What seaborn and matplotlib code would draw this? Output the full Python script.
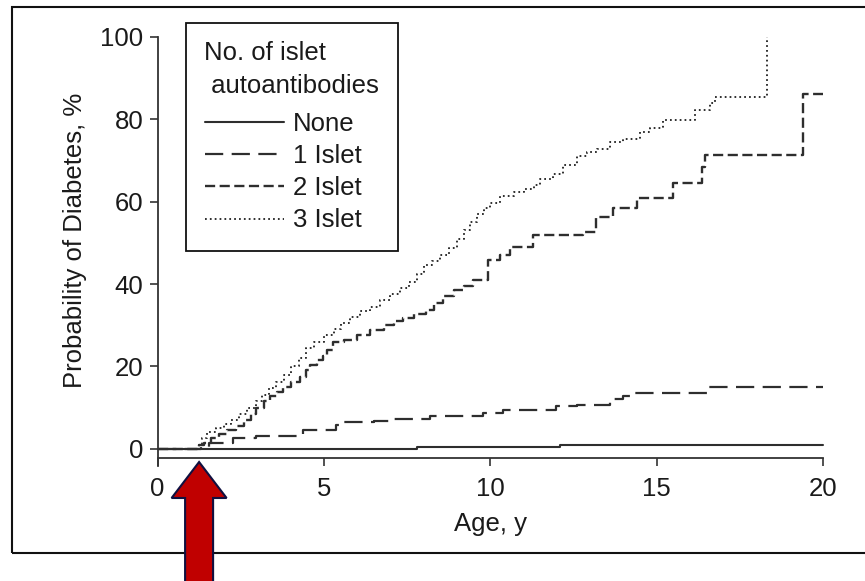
import matplotlib
matplotlib.use("Agg")
import matplotlib.pyplot as plt
from matplotlib.patches import Polygon, Rectangle
from matplotlib.transforms import IdentityTransform
import pandas as pd
import seaborn as sns

# Cumulative probability of diabetes (%) by age, grouped by number of islet autoantibodies
groups = ["None", "1 Islet", "2 Islet", "3 Islet"]

age_none = [0, 7.8, 12.1, 20]
prob_none = [0, 0.3, 0.8, 0.8]

age_1 = [0, 1.3, 1.56, 2.27, 2.97, 4.37, 5.37, 5.47, 6.5, 7.0, 8.18, 9.77,
         10.38, 11.99, 12.6, 13.6, 14.0, 14.3, 16.5, 20]
prob_1 = [0, 0.5, 1.5, 2.6, 3.2, 4.6, 5.8, 6.4, 6.8, 7.2, 8.0, 8.7,
          9.5, 10.3, 10.7, 12.1, 12.9, 13.5, 15.0, 15.0]

age_2 = [0, 1.25, 1.4, 1.6, 1.85, 2.1, 2.35, 2.6, 2.8, 2.97, 3.2, 3.37, 3.6,
         3.77, 4.0, 4.27, 4.45, 4.57, 4.8, 4.97, 5.1, 5.27, 5.6, 6.0, 6.38,
         6.8, 7.1, 7.38, 7.7, 8.08, 8.3, 8.58, 8.9, 9.2, 9.48, 9.93, 10.3,
         10.6, 11.29, 12.8, 13.19, 13.7, 14.4, 15.5, 16.35, 16.45, 19.39, 20]
prob_2 = [0, 0.8, 1.5, 2.5, 3.5, 4.5, 5.5, 7.0, 8.5, 10.0, 11.5, 12.7, 13.8,
          15.1, 16.2, 17.5, 19.0, 20.4, 21.5, 22.4, 24.0, 26.0, 26.5, 27.5, 28.9,
          30.0, 31.0, 31.7, 32.7, 33.7, 35.5, 37.0, 38.5, 39.5, 41.0, 45.9, 47.0,
          49.1, 51.9, 52.6, 56.4, 58.4, 60.8, 64.6, 68.5, 71.4, 86.1, 86.1]

age_3 = [0, 1.25, 1.35, 1.5, 1.75, 2.0, 2.2, 2.45, 2.7, 2.95, 3.15, 3.35, 3.55,
         3.8, 4.0, 4.25, 4.45, 4.7, 5.0, 5.3, 5.5, 5.8, 6.1, 6.4, 6.7, 7.0, 7.3,
         7.55, 7.8, 8.0, 8.25, 8.5, 8.75, 9.0, 9.2, 9.4, 9.6, 9.8, 10.0, 10.3,
         10.7, 11.0, 11.3, 11.5, 11.9, 12.2, 12.6, 12.9, 13.2, 13.6, 14.0, 14.5,
         14.8, 15.2, 16.15, 16.6, 16.75, 18.33]
prob_3 = [0, 1.0, 2.5, 4.0, 5.0, 6.0, 7.0, 8.5, 10.0, 11.5, 13.0, 14.8, 16.3,
          18.0, 20.0, 22.0, 24.5, 26.0, 27.5, 29.0, 30.5, 32.0, 33.5, 34.5, 36.0,
          37.5, 39.0, 40.5, 42.5, 44.5, 45.5, 47.0, 48.7, 51.0, 53.2, 55.0, 57.0,
          58.5, 59.8, 61.5, 62.3, 63.0, 64.0, 65.5, 66.8, 68.8, 71.0, 72.0, 72.8,
          74.5, 75.3, 77.0, 77.8, 79.8, 82.3, 83.9, 85.5, 100.0]

x_ticks = [0, 5, 10, 15, 20]
y_ticks = [0, 20, 40, 60, 80, 100]

# age at which the antibody-positive curves start to rise
arrow_age = 1.25

series = {
    "None": (age_none, prob_none),
    "1 Islet": (age_1, prob_1),
    "2 Islet": (age_2, prob_2),
    "3 Islet": (age_3, prob_3),
}
df = pd.concat(
    [pd.DataFrame({"age": a, "prob": p, "group": g}) for g, (a, p) in series.items()],
    ignore_index=True,
)

line_styles = {
    "None": dict(linestyle="-", linewidth=1.5),
    "1 Islet": dict(linestyle=(0, (8.2, 3.8)), linewidth=1.6),
    "2 Islet": dict(linestyle=(0, (4.3, 1.9)), linewidth=1.7),
    "3 Islet": dict(linestyle=(0, (0.9, 1.6)), linewidth=1.4),
}

sns.set_style("ticks")
FS = 18.5
plt.rcParams["font.family"] = ["Liberation Sans", "DejaVu Sans"]
plt.rcParams["text.color"] = "#1a1a1a"
plt.rcParams["axes.labelcolor"] = "#1a1a1a"
plt.rcParams["xtick.color"] = "#333333"
plt.rcParams["ytick.color"] = "#333333"
plt.rcParams["xtick.labelcolor"] = "#1a1a1a"
plt.rcParams["ytick.labelcolor"] = "#1a1a1a"

W, H = 865, 581
fig = plt.figure(figsize=(W / 100, H / 100), dpi=100)
ax_left, ax_right, ax_top, ax_bottom = 157.5, 823.0, 37.0, 466.0
ax = fig.add_axes([ax_left / W, 1 - ax_bottom / H,
                   (ax_right - ax_left) / W, (ax_bottom - ax_top) / H])

line_color = "#2e2e2e"
for g in groups:
    sub = df[df["group"] == g]
    sns.lineplot(data=sub, x="age", y="prob", ax=ax, color=line_color,
                 drawstyle="steps-post", estimator=None, label=g,
                 clip_on=False, **line_styles[g])

# offset bottom axis line sits just below the zero level
for side in ("top", "right"):
    ax.spines[side].set_visible(False)
ax.spines["bottom"].set_position(("data", -2.2))
for side in ("left", "bottom"):
    ax.spines[side].set_color("#333333")
    ax.spines[side].set_linewidth(1.3)

ax.set_xlim(0, 20)
ax.set_ylim(-4.2, 100)
ax.set_xticks(x_ticks)
ax.set_yticks(y_ticks)
ax.set_xticklabels([str(v) for v in x_ticks])
ax.set_yticklabels([str(v) for v in y_ticks])
ax.tick_params(axis="x", direction="out", length=5.8, width=1.2, pad=8.0,
               labelsize=FS)
ax.tick_params(axis="y", direction="out", length=5.5, width=1.2, pad=4.5,
               labelsize=FS)

ax.set_xlabel("Age, y", fontsize=FS)
ax.set_ylabel("Probability of Diabetes, %", fontsize=FS)
ax.xaxis.set_label_coords(0.5, -0.108)
ax.yaxis.set_label_coords(-0.106, 0.525)

handles, labels = ax.get_legend_handles_labels()
leg = ax.legend(handles, labels, title="No. of islet\n autoantibodies",
                loc="upper left", bbox_to_anchor=(186 / W, 1 - 23 / H),
                bbox_transform=fig.transFigure, borderaxespad=0,
                frameon=True, fancybox=False, framealpha=1, edgecolor="#111111",
                borderpad=0.72, labelspacing=0.32, handlelength=3.1,
                handletextpad=0.35, alignment="left",
                fontsize=FS, title_fontsize=FS)
leg.get_frame().set_linewidth(1.3)
leg.get_title().set_linespacing(1.45)
# a little more room between the title and the entries
leg._legend_box.sep = leg._legend_box.sep + 4

# outer frame around the figure
fig.add_artist(Rectangle((12 / W, 1 - 553 / H), 1.2, (553 - 7) / H,
                         transform=fig.transFigure, fill=False,
                         edgecolor="#111111", linewidth=1.5, clip_on=False,
                         zorder=1))

# red arrow pointing up at the onset age
cx = ax.transData.transform((arrow_age, 0))[0]
tip_y = H - 462
head_y = H - 498
verts = [(cx, tip_y), (cx + 27.5, head_y), (cx + 14, head_y), (cx + 14, -20),
         (cx - 14, -20), (cx - 14, head_y), (cx - 27.5, head_y)]
fig.add_artist(Polygon(verts, closed=True, transform=IdentityTransform(),
                       facecolor="#C00000", edgecolor="#101040",
                       linewidth=1.5, clip_on=False, zorder=5))

fig.savefig("out.png", dpi=100)
